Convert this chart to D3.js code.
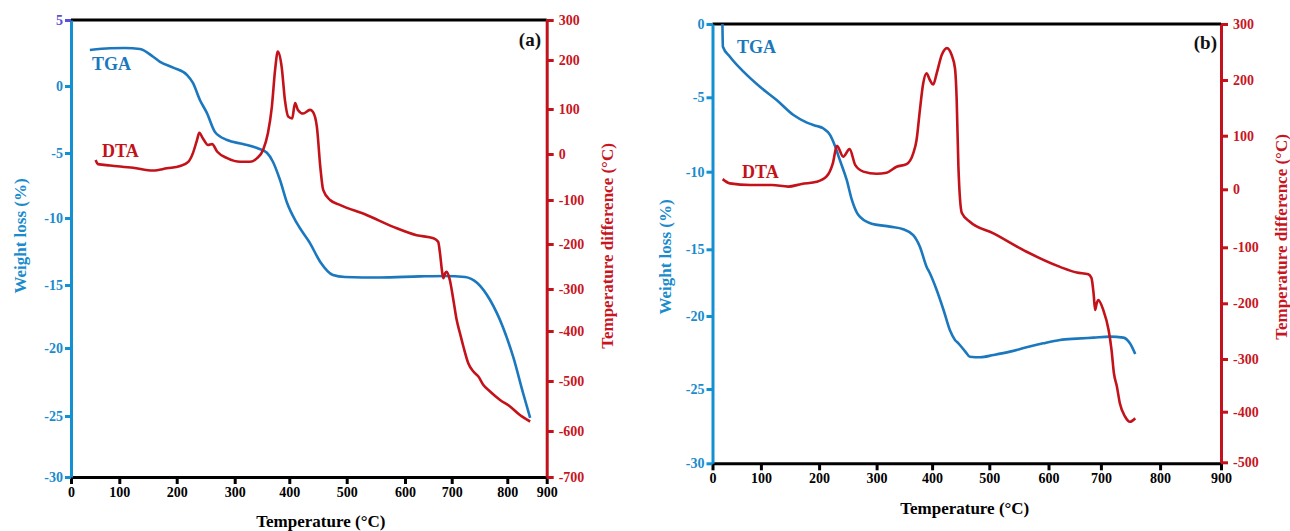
<!DOCTYPE html>
<html>
<head>
<meta charset="utf-8">
<script src="https://cdn.jsdelivr.net/npm/d3@7"></script>
<style>
  body { margin: 0; background: #fff; }
  svg { display: block; }
  text { font-family: "Liberation Serif", "Times New Roman", serif; font-weight: bold; }
</style>
</head>
<body>
<svg id="chart" width="1290" height="531"></svg>
<script>
// ---- Tick labels ----
const tempTicks    = [0, 100, 200, 300, 400, 500, 600, 700, 800, 900];
const weightTicksA = [5, 0, -5, -10, -15, -20, -25, -30];
const diffTicksA   = [300, 200, 100, 0, -100, -200, -300, -400, -500, -600, -700];
const weightTicksB = [0, -5, -10, -15, -20, -25, -30];
const diffTicksB   = [300, 200, 100, 0, -100, -200, -300, -400, -500];

// ---- Sample (a): TGA, weight loss (%) vs temperature (°C) ----
const tgaTempA   = [39, 81, 110, 136, 159, 171, 194, 218, 228, 240, 252, 266, 287, 315, 341, 359, 370, 383, 396, 413,
                    436, 454, 476, 497, 557, 632, 686, 724, 746, 769, 792, 815, 840, 858];
const tgaWeightA = [2.73, 2.86, 2.88, 2.80, 2.22, 1.83, 1.39, 0.83, 0.23, -1.04, -2.01, -3.43, -4.03, -4.33, -4.63, -4.98, -5.67, -7.08, -8.85, -10.37,
                    -11.87, -13.28, -14.25, -14.40, -14.44, -14.36, -14.33, -14.40, -14.85, -16.19, -18.33, -20.66, -23.31, -25.15];

// ---- Sample (a): DTA, temperature difference (°C) vs temperature (°C) ----
const dtaTempA = [51, 56, 81, 124, 159, 183, 206, 220, 228, 235, 239, 245, 254, 261, 270, 287, 310, 328, 341, 352,
                  361, 368, 374, 379, 386, 392, 398, 405, 410, 415, 424, 436, 441, 448, 454, 459, 471, 488, 534, 580,
                  625, 661, 671, 675, 679, 682, 686, 689, 696, 703, 709, 715, 721, 730, 739, 748, 757, 769, 787, 807,
                  832, 858];
const dtaDiffA = [-13, -22, -25, -30, -36, -31, -26, -17, 2, 31, 47, 35, 20, 22, 5, -9, -17, -17, -9, 9,
                  47, 104, 180, 221, 186, 118, 83, 79, 112, 98, 90, 98, 94, 61, -28, -78, -100, -111, -134, -161,
                  -180, -187, -195, -221, -258, -276, -265, -262, -280, -326, -374, -405, -431, -465, -481, -491, -508, -521, -538, -551,
                  -568, -581];

// ---- Sample (b): TGA ----
const tgaTempB   = [20.5, 21.5, 36, 64, 98, 127, 156, 179, 196, 207, 219, 228, 236, 248, 257, 268, 289, 324, 348, 366,
                    378, 390, 396, 408, 420, 431, 440, 446, 458, 466, 484, 507, 535, 563, 591, 622, 654, 686, 715, 738,
                    749, 758];
const tgaWeightB = [0, -1.55, -2.23, -3.25, -4.28, -5.18, -6.19, -6.70, -6.93, -7.08, -7.53, -8.31, -9.21, -10.53, -11.82, -12.78, -13.32, -13.54, -13.71, -14.08,
                    -14.83, -16.30, -16.80, -18.05, -19.55, -20.96, -21.64, -21.87, -22.44, -22.79, -22.83, -22.67, -22.44, -22.14, -21.87, -21.64, -21.55, -21.48, -21.41, -21.48,
                    -21.87, -22.60];

// ---- Sample (b): DTA ----
const dtaTempB = [21, 36, 78, 119, 147, 170, 196, 213, 224, 231, 242, 253, 263, 277, 300, 318, 336, 354, 366, 372,
                  378, 384, 390, 396, 402, 408, 417, 426, 434, 440, 443, 446, 452, 466, 507, 563, 622, 654, 676, 682,
                  686, 689, 692, 695, 704, 713, 718, 722, 727, 732, 741, 749, 758];
const dtaDiffB = [19, 11, 8, 8, 5, 10, 14, 24, 49, 81, 61, 75, 45, 33, 29, 31, 42, 47, 67, 92,
                  146, 194, 212, 200, 192, 212, 245, 257, 245, 221, 164, 42, -41, -56, -76, -108, -135, -145, -148, -155,
                  -182, -212, -200, -194, -212, -248, -284, -327, -352, -384, -410, -420, -413];

// ---- Drawing ----
const BLUE_AXIS = "#1390d2", BLUE_LINE = "#1b78be", BLUE_TEXT = "#1a8bcc";
const RED_AXIS = "#c3121c", RED_LINE = "#c4121a", RED_TEXT = "#c8151f";
const svg = d3.select("#chart");
svg.append("rect").attr("width", 1290).attr("height", 531).attr("fill", "#fff");

const fmt = d => String(d);

function drawPanel(p) {
  const g = svg.append("g");
  // piecewise scales follow the tick spacing of each printed axis
  const x  = d3.scaleLinear().domain(tempTicks).range(p.xRange);
  const yL = d3.scaleLinear().domain(p.wTicks).range(p.yLRange);
  const yR = d3.scaleLinear().domain(p.dTicks).range(p.yRRange);
  const left = p.xRange[0], right = p.xRange[p.xRange.length - 1];
  const top = p.yLRange[0], bottom = p.yLRange[p.yLRange.length - 1];

  // bottom axis
  const xAxis = g.append("g").attr("transform", `translate(0,${bottom})`)
    .call(d3.axisBottom(x).tickValues(tempTicks).tickFormat(fmt).tickSize(7).tickSizeOuter(0).tickPadding(3));
  xAxis.select(".domain").attr("stroke", "#000").attr("stroke-width", 3);
  xAxis.selectAll(".tick line").attr("stroke", "#000").attr("stroke-width", 3);
  xAxis.selectAll(".tick text").attr("fill", "#000").attr("font-size", 14);

  // top frame line
  g.append("line").attr("x1", left).attr("x2", right).attr("y1", top).attr("y2", top)
    .attr("stroke", "#000").attr("stroke-width", 3);

  // left axis: weight loss
  const yAxisL = g.append("g").attr("transform", `translate(${left},0)`)
    .call(d3.axisLeft(yL).tickValues(p.wTicks).tickFormat(fmt).tickSize(6).tickSizeOuter(0).tickPadding(2));
  yAxisL.select(".domain").attr("stroke", BLUE_AXIS).attr("stroke-width", 3);
  yAxisL.selectAll(".tick line").attr("stroke", d => d > 0 ? "#5a4fd0" : BLUE_AXIS).attr("stroke-width", 3);
  yAxisL.selectAll(".tick text").attr("fill", d => d > 0 ? "#5a4fd0" : BLUE_TEXT).attr("font-size", 14);

  // right axis: temperature difference
  const yAxisR = g.append("g").attr("transform", `translate(${right},0)`)
    .call(d3.axisRight(yR).tickValues(p.dTicks).tickFormat(fmt).tickSize(7).tickSizeOuter(0).tickPadding(5));
  yAxisR.select(".domain").attr("stroke", RED_AXIS).attr("stroke-width", 3);
  yAxisR.selectAll(".tick line").attr("stroke", RED_AXIS).attr("stroke-width", 3);
  yAxisR.selectAll(".tick text").attr("fill", RED_TEXT).attr("font-size", 14);

  g.selectAll(".domain").attr("fill", "none");

  // curves
  const tga = d3.zip(p.tgaT, p.tgaW);
  const dta = d3.zip(p.dtaT, p.dtaD);
  const lineL = d3.line().x(d => x(d[0])).y(d => yL(d[1])).curve(d3.curveMonotoneX);
  const lineR = d3.line().x(d => x(d[0])).y(d => yR(d[1])).curve(d3.curveMonotoneX);
  g.append("path").datum(tga).attr("d", lineL)
    .attr("fill", "none").attr("stroke", BLUE_LINE).attr("stroke-width", 2.6).attr("stroke-linejoin", "round");
  g.append("path").datum(dta).attr("d", lineR)
    .attr("fill", "none").attr("stroke", RED_LINE).attr("stroke-width", 2.6).attr("stroke-linejoin", "round");

  // series labels
  g.append("text").attr("x", p.tgaLabel[0]).attr("y", p.tgaLabel[1]).attr("dominant-baseline", "central")
    .attr("font-size", 18).attr("fill", BLUE_LINE).text("TGA");
  g.append("text").attr("x", p.dtaLabel[0]).attr("y", p.dtaLabel[1]).attr("dominant-baseline", "central")
    .attr("font-size", 18).attr("fill", RED_LINE).text("DTA");

  // panel tag
  g.append("text").attr("x", p.tag[0]).attr("y", p.tag[1]).attr("text-anchor", "end")
    .attr("dominant-baseline", "central").attr("font-size", 19).attr("fill", "#111").text(p.tagText);

  // axis titles
  g.append("text").attr("x", (left + right) / 2 - p.xTitleShift).attr("y", p.xTitleY)
    .attr("text-anchor", "middle").attr("dominant-baseline", "central")
    .attr("font-size", 17).attr("fill", "#000").text("Temperature (°C)");
  g.append("text").attr("transform", `translate(${p.yLTitle[0]},${p.yLTitle[1]}) rotate(-90)`)
    .attr("text-anchor", "middle").attr("dominant-baseline", "central")
    .attr("font-size", 17).attr("fill", BLUE_TEXT).text("Weight loss (%)");
  g.append("text").attr("transform", `translate(${p.yRTitle[0]},${p.yRTitle[1]}) rotate(-90)`)
    .attr("text-anchor", "middle").attr("dominant-baseline", "central")
    .attr("font-size", 17).attr("fill", RED_TEXT).text("Temperature difference (°C)");
}

drawPanel({
  xRange: [71, 119.3, 176.7, 234.7, 289.3, 346.7, 405, 451.7, 507.3, 546.7],
  wTicks: weightTicksA, yLRange: [20, 86, 153, 218, 285, 348, 416, 477],
  dTicks: diffTicksA, yRRange: [20, 60, 109, 154, 200, 244, 289, 331, 381, 431, 477],
  tgaT: tgaTempA, tgaW: tgaWeightA, dtaT: dtaTempA, dtaD: dtaDiffA,
  tgaLabel: [92, 64], dtaLabel: [102, 151], tag: [541, 39], tagText: "(a)",
  xTitleShift: -12, xTitleY: 521, yLTitle: [20, 236], yRTitle: [607, 246]
});

drawPanel({
  xRange: [712.5, 760.9, 819.1, 876.6, 932.1, 989.3, 1048.5, 1100.9, 1160.1, 1221],
  wTicks: weightTicksB, yLRange: [24, 97.3, 171.7, 249.3, 316, 389, 463.3],
  dTicks: diffTicksB, yRRange: [24, 80, 135.7, 189.3, 247.3, 303.3, 359, 411.7, 462.3],
  tgaT: tgaTempB, tgaW: tgaWeightB, dtaT: dtaTempB, dtaD: dtaDiffB,
  tgaLabel: [737, 47], dtaLabel: [742, 172], tag: [1217, 42], tagText: "(b)",
  xTitleShift: 2, xTitleY: 508, yLTitle: [665, 257], yRTitle: [1281, 237]
});
</script>
</body>
</html>
